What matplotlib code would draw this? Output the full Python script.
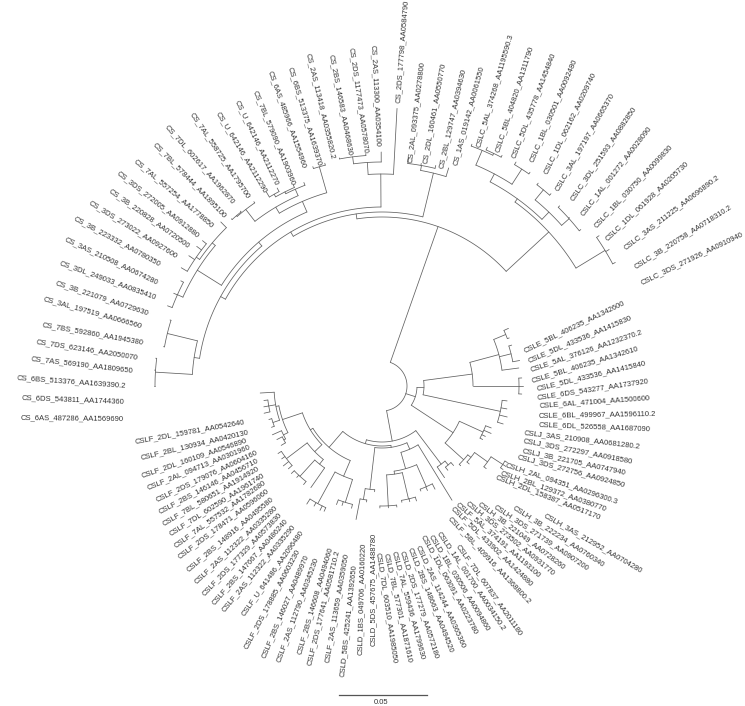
import numpy as np
import matplotlib
matplotlib.use('Agg')
import matplotlib.pyplot as plt
from matplotlib.collections import LineCollection

plt.rcParams['font.family'] = ['Liberation Sans', 'DejaVu Sans']

# Tree: a node is (depth, [children]), a tip is (depth, angle in degrees).
# Depth is distance from the root, in picture pixels (0.05 on the scale bar = 88)
cse_clade = (42, [
    (91, [
        (121, [(134, [(139, 24.5), (136, 20.7)]), (133, [(136, 17.5), (140, 10.5)]), (138, 7.5)]),
        (137, [(140, 3.3), (141, 0), (140, -3.3)]),
    ]),
    (121, [(126, -6.8), (127, -10.4), (129, -13.9), (127, -17.4)]),
])
cslj_h_clade = (85, [
    (111, [(117, -21), (119, -23.5), (115, -26), (114, -28)]),
    (110, [(112, -45.4), (114, [(117, -41.8), (130, [(133, -38.4), (144, [(147, -34.6), (148, -33), (147, -31.4)])])])]),
])
middle_clade = (35, [cse_clade, cslj_h_clade])

csf5_clade = (98, [(111, -55.7), (103, [(107, -48), (107, -52)])])
csld_groups = (69, [
    (134, -58.5),
    (86, [
        (89, [(120, [(122, -91), (122, -87), (122, -83)]), (116, [(118, -80.3), (119, -76.5), (120, -73.3)])]),
        (110, [(112, -69.7), (114, -66.5), (116, -62.8)]),
    ]),
])
csld_ladder = (104, [(115, [(117, -97.6), (136, -101)]), (106, -94)])
csld_clade = (62, [csld_groups, csld_ladder])

csf_top = (105, [
    (108, [(122, -176.7), (115, [(119, -173), (120, -170), (121, -167)]), (115, [(118, -163.5), (118, -159.5)])]),
    (110, [(120, -156), (112, [(118, -153), (117, -149.5)])]),
])
csf_mid = (94, [
    (120, [(124, -147), (124, -144), (127, -141), (125, -138.5)]),
    (100, [(122, [(126, -136), (125, -133), (126, -128.5)]), (124, -125)]),
])
csf_low = (98, [
    (134, [(140, -122.5), (138, -119.5), (139, -116.5), (138, -114.8)]),
    (122, [(127, -111), (126, -108.5), (126, -104)]),
])
csf_clade = (81, [(84, [csf_top, csf_mid]), csf_low])
bottom_clade = (56, [csf5_clade, (60, [csf_clade, csld_clade])])

cslc_clade = (227, [
    (231, [
        (240, [
            (256, [(258, 69.6), (258, [(261, 66.2), (260, 62.5)])]),
            (258, [(261, 59.1), (260, 55.3)]),
        ]),
        (241, [(254, [(256, 52.4), (256, 48.7)]), (251, [(253, 45.4), (252, 42), (253, 38.2)])]),
    ]),
    (261, [(264, 34.7), (265, 31), (264, 27.9)]),
])
cs2_clade = (219, [(224, [(230, 83.4), (226, 80), (227, 76.3)]), (228, 73)])
cs_top = (212, [(278, 86.9), (224, [(234, 90.2), (231, [(232, 100.6), (233, 94)])])])
cs_left = (190, [
    (221, [(222, 162.7), (221, 166.5), (222, 169.8)]),
    (227, [(228, 173), (228, 176), (228, 180)]),
])
cs_3 = (218, [
    (222, [(230, 134.5), (226, [(233, 149.5), (233, 146), (232, 143), (231, 141)])]),
    (224, [(229, 159.5), (228, 156), (227, 152.4)]),
])
cs_7 = (208, [
    (223, [(224.5, 124.8), (224, [(225, 129), (225, 132)])]),
    (215, [(218, 111), (217, [(220, 113.8), (220, [(226, 120.8), (224, 117.9)])])]),
])
cs_upper = (189.5, [cs_3, (201, [(228, [(230, 107.5), (230, 104.4)]), cs_7])])
cs_clade = (174, [cs2_clade, (179, [cs_top, (184.5, [cs_left, cs_upper])])])
top_clade = (169, [cslc_clade, cs_clade])

tree = (25, [top_clade, middle_clade, bottom_clade])

scale_value = 0.05
scale_length = 88

# Tip labels do not sit on their tips in the picture, so they keep their own places
label_names = [
    'CS_2AS_113300_AA0354100', 'CS_2DS_1177473_AA0578070', 'CS_2BS_146583_AA0468630',
    'CS_2AS_113418_AA0355820.2', 'CS_6BS_513375_AA1639370', 'CS_6AS_485966_AA1554960',
    'CS_7BL_579090_AA1903960', 'CS_U_642146_AA2112270', 'CS_U_642146_AA2112290',
    'CS_7AL_558725_AA1795700', 'CS_7DL_602617_AA1962870', 'CS_7BL_578444_AA1895100',
    'CS_7AL_557254_AA1778850', 'CS_3DS_272005_AA0912880', 'CS_3B_220828_AA0720500',
    'CS_3DS_273022_AA0927600', 'CS_3B_223332_AA0780350', 'CS_3AS_210508_AA0674280',
    'CS_3DL_249033_AA0835410', 'CS_3B_221079_AA0729630', 'CS_3AL_197519_AA0666560',
    'CS_7BS_592860_AA1945380', 'CS_7DS_623146_AA2050070', 'CS_7AS_569190_AA1809650',
    'CS_6BS_513376_AA1639390.2', 'CS_6DS_543811_AA1744360', 'CS_6AS_487286_AA1569690',
    'CS_2DS_177798_AA0584790', 'CS_2AL_093375_AA0278800', 'CS_2DL_160461_AA0550770',
    'CS_2BL_129747_AA0394630', 'CS_1AS_019142_AA0061550',
    'CSLC_5AL_374268_AA1195590.3', 'CSLC_5BL_404820_AA1311790', 'CSLC_5DL_435778_AA1454840',
    'CSLC_1BL_030501_AA0092480', 'CSLC_1DL_062162_AA0209740', 'CSLC_3AL_197197_AA0665370',
    'CSLC_3DL_251593_AA0882850', 'CSLC_1AL_001272_AA0028090', 'CSLC_1BL_030750_AA0099830',
    'CSLC_1DL_061928_AA0205730', 'CSLC_3AS_211225_AA0696890.2', 'CSLC_3B_220758_AA0718310.2',
    'CSLC_3DS_271926_AA0910940',
    'CSLE_5BL_406235_AA1342600', 'CSLE_5DL_433536_AA1415830', 'CSLE_5AL_376126_AA1232370.2',
    'CSLE_5BL_406235_AA1342610', 'CSLE_5DL_433536_AA1415840', 'CSLE_6DS_543277_AA1737920',
    'CSLE_6AL_471004_AA1500600', 'CSLE_6BL_499967_AA1596110.2', 'CSLE_6DL_526558_AA1687090',
    'CSLJ_3AS_210908_AA0681280.2', 'CSLJ_3DS_272297_AA0918580', 'CSLJ_3B_221705_AA0747940',
    'CSLJ_3DS_272756_AA0924850',
    'CSLH_2AL_094351_AA0296300.3', 'CSLH_2BL_129372_AA0380770', 'CSLH_2DL_158387_AA0517170',
    'CSLH_3AS_212952_AA0704280', 'CSLH_3B_222234_AA0760340', 'CSLH_3DS_271739_AA0907200',
    'CSLH_3B_221049_AA0728260', 'CSLH_3DS_273502_AA0931770',
    'CSLF_5AL_374191_AA1193100', 'CSLF_5DL_433902_AA1424880', 'CSLF_5BL_409916_AA1368800.2',
    'CSLF_7DL_607837_AA2011180',
    'CSLD_1AL_001700_AA0034150.2', 'CSLD_1BL_030506_AA0094860', 'CSLD_1DL_063091_AA0223780',
    'CSLD_2AS_114244_AA0365360', 'CSLD_2BS_148663_AA0494520', 'CSLD_2DS_177279_AA0572180',
    'CSLD_7AL_559436_AA1799630', 'CSLD_7BL_577301_AA1871610', 'CSLD_7DL_603510_AA1985050',
    'CSLD_5DS_457675_AA1488780', 'CSLD_1BS_049706_AA0160220', 'CSLD_5BS_425241_AA1392650',
    'CSLF_2AS_113659_AA0359050', 'CSLF_2DS_177641_AA0581710.2', 'CSLF_2BS_146608_AA0494060',
    'CSLF_2AS_112790_AA0345230', 'CSLF_2BS_146027_AA0489970', 'CSLF_2DS_178885_AA0603230',
    'CSLF_U_641486_AA2096480', 'CSLF_2AS_112322_AA0335290', 'CSLF_2BS_147667_AA0486240',
    'CSLF_2DS_177329_AA0573830', 'CSLF_2AS_112322_AA0335280', 'CSLF_2BS_148916_AA0495580',
    'CSLF_2DS_178471_AA0596060', 'CSLF_7AL_557532_AA1782680', 'CSLF_7DL_602590_AA1961740',
    'CSLF_7BL_580651_AA1914920', 'CSLF_2BS_146146_AA0456710', 'CSLF_2DS_179076_AA0604160',
    'CSLF_2AL_094713_AA0301960', 'CSLF_2DL_160109_AA0546890', 'CSLF_2BL_130934_AA0420130',
    'CSLF_2DL_159781_AA0542640',
]
# inner end of each label
label_x = [
    378, 366, 350, 333, 319, 304, 293, 277, 265, 248, 233, 225, 213, 198, 189, 177, 160, 158,
    156, 148, 142, 143, 138, 133, 126, 124, 124,
    398, 410, 425, 441, 456,
    479, 498, 514, 532, 546, 557, 572, 582, 595, 606, 625, 635, 641,
    524, 528, 531, 532, 537, 537, 539, 539, 539,
    524, 523, 522, 517,
    506, 501, 496, 544, 513, 494, 479, 467,
    457, 452, 449, 457,
    438, 430, 422, 418, 410, 402, 394, 386, 378, 373, 363, 354,
    347, 338, 331, 317, 307, 298, 302, 294, 287, 281, 276, 273, 268, 265, 264, 259, 258, 257,
    250, 247, 249, 245,
]
label_y = [
    147, 153, 155, 159, 166, 168, 185, 185, 193, 198, 203, 217, 227, 236, 247, 257, 265, 283,
    298, 313, 326, 343, 358, 371, 386, 402, 419,
    103, 163, 163, 168, 165,
    147, 152, 158, 162, 174, 190, 200, 215, 227, 240, 248, 267, 283,
    351, 361, 370, 381, 389, 398, 406, 416, 425,
    433, 441, 451, 457,
    465, 473, 477, 515, 507, 506, 503, 503,
    504, 508, 518, 545,
    532, 535, 535, 546, 548, 551, 551, 553, 553, 533, 543, 565,
    553, 550, 547, 558, 555, 550, 531, 525, 520, 514, 507, 498, 490, 482, 475, 468, 460, 452,
    447, 440, 432, 422,
]
label_rot = [
    -87.2, -81.9, -79.2, -76.7, -73.2, -70.5, -67.7, -64.5, -59.1, -56, -48.9, -45.8, -40.3,
    -38.4, -35.3, -31.9, -28.4, -25.3, -19.8, -18.2, -15.6, -10, -8.9, -6.7, -4.2, -2.2, -0.6,
    85.6, 83.2, 79.8, 77.3, 75,
    73.9, 72.2, 69.1, 67, 64.3, 60, 55.9, 52.3, 46.8, 43.6, 37.5, 32.3, 25.9,
    25.9, 23, 18.9, 17, 13.4, 8.6, 4.1, 1, -2.2,
    -6.8, -10.8, -12, -14.8,
    -18.3, -19, -21.3, -29.9, -32.7, -33.8, -37, -39.4,
    -41.3, -44.2, -46.5, -54.8,
    -56.2, -58.7, -61.4, -65.7, -68.2, -72, -75, -77.6, -81.3, 90, 88.5, 83.9,
    80.1, 76.3, 73.7, 70, 67.2, 62, 54.9, 50.3, 48.9, 46.4, 43.2, 40.4, 37, 35.6, 32.4, 30.5,
    27.8, 25.5, 22, 18.8, 13.5, 10.3,
]

cx, cy = 382, 386
segments = []


def to_xy(depth, angle):
    a = np.radians(angle)
    return cx + depth * np.cos(a), cy - depth * np.sin(a)


def walk(node, parent_depth=None):
    depth, rest = node
    if isinstance(rest, list):
        angles = [walk(child, depth) for child in rest]
        low, high = min(angles), max(angles)
        arc = np.linspace(low, high, max(int(high - low) * 2, 2))
        segments.append(np.column_stack(to_xy(depth, arc)))
        angle = (low + high) / 2
    else:
        angle = rest
    if parent_depth is not None:
        segments.append(np.array([to_xy(parent_depth, angle), to_xy(depth, angle)]))
    return angle


fig = plt.figure(figsize=(7.45, 7.06), dpi=100)
ax = fig.add_axes([0, 0, 1, 1])
ax.set_xlim(0, 745)
ax.set_ylim(706, 0)
ax.axis('off')

walk(tree)
ax.add_collection(LineCollection(segments, colors='#606060', linewidths=0.55, capstyle='round'))

for name, x, y, rot in zip(label_names, label_x, label_y, label_rot):
    # labels read away from the centre on the right, towards it on the left
    ha = 'left' if x > cx or (y > cy and x > 375) else 'right'
    ax.text(x, y, name, fontsize=5.5, color='#333333', rotation=rot, ha=ha, va='center',
            rotation_mode='anchor')

# Scale bar
bar_mid = 382.5
ax.plot([bar_mid - scale_length / 2, bar_mid + scale_length / 2], [695, 695], color='#555555', lw=0.9)
ax.text(bar_mid - 1, 702, f'{scale_value:.2f}', fontsize=5.5, color='#333333', ha='center', va='center')

fig.savefig('out.png', dpi=100)
